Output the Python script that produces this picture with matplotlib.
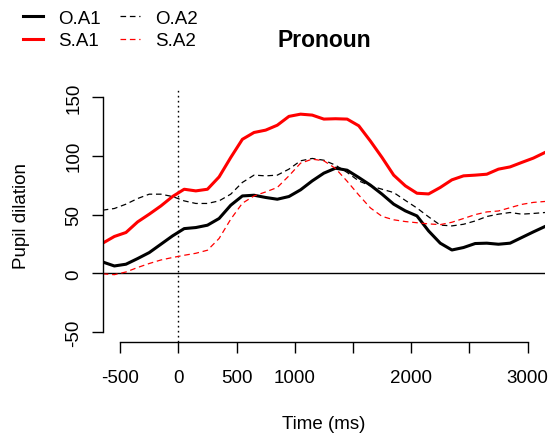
#!/usr/bin/env python3
import numpy as np
import matplotlib
matplotlib.use('Agg')
import matplotlib.pyplot as plt

plt.rcParams['font.family'] = ['Liberation Sans', 'DejaVu Sans']

#%% data (pupil dilation vs time, 100 ms bins)
time_ms = np.arange(-650, 3151, 100)

o_a1 = [9.6, 6.2, 7.7, 12.5, 17.6, 24.7, 31.8, 38, 38.9, 40.9,
        46.6, 57.9, 65.8, 66.4, 64.5, 63, 65.3, 71, 78.6, 85.2,
        89.4, 87.7, 81.5, 75, 67.3, 58.8, 53.1, 48.8, 36, 25.6,
        19.8, 21.9, 25.3, 25.6, 24.7, 25.6, 30.4, 35.2, 39.8]
o_a2 = [53.7, 55.1, 58.8, 63.6, 67.3, 67.3, 65.3, 61.6, 59.4, 59.4,
        61.6, 67.3, 77.3, 83.5, 82.9, 83.5, 88.6, 95.7, 97.7, 96.2,
        92, 85.8, 78.6, 74.4, 71.5, 68.7, 62, 55.5, 48, 41,
        40.3, 41.7, 44.5, 48.3, 50.3, 51.7, 50.3, 50.9, 51.7]
s_a1 = [25.6, 31.3, 34.7, 43.7, 50.3, 57.3, 65.3, 71.5, 70.1, 71.5,
        82, 98.5, 114, 119.8, 121.8, 126, 133.5, 135.4, 134.6, 131.2,
        131.5, 131.2, 125.5, 112.5, 98.5, 83.5, 74.4, 68.1, 67.5, 73,
        79.5, 82.9, 83.5, 84.3, 88.6, 90.5, 94.3, 98, 102.8]
s_a2 = [-0.5, -1.2, 1.1, 4.9, 8.3, 11.3, 13.4, 15.3, 17, 19.6,
        29.6, 46, 59.6, 65.8, 69.2, 73, 82.9, 93.7, 97.1, 95.7,
        89.2, 78.3, 66.6, 55.6, 48.4, 45.5, 44, 43, 42, 41.4,
        43.4, 46.6, 49.9, 52.2, 53, 55.8, 58.6, 60.3, 61.1]

xticks = [-500, 0, 500, 1000, 1500, 2000, 2500, 3000]
xticklabels = ['-500', '0', '500', '1000', '', '2000', '', '3000']
yticks = [-50, 0, 50, 100, 150]

FS = 13.5
W, H = 556, 439

#%% figure
fg = plt.figure(figsize=(W / 100, H / 100), dpi=100)
ax = fg.add_axes([102.7 / W, 1 - 343 / H, 442.3 / W, 254.4 / H])

ax.axhline(0, color='black', lw=1)
ax.axvline(0, color='black', lw=1, dashes=(1.2, 2.4))

ax.plot(time_ms, o_a1, color='black', lw=2.2, label='O.A1')
ax.plot(time_ms, s_a1, color='red', lw=2.2, label='S.A1')
ax.plot(time_ms, o_a2, color='black', lw=0.9, dashes=(4.5, 3), label='O.A2')
ax.plot(time_ms, s_a2, color='red', lw=0.9, dashes=(4.5, 3), label='S.A2')

ax.set_xlim(-650, 3150)
ax.set_ylim(-58.5, 158)

# R style detached axes
for s in ('top', 'right'):
    ax.spines[s].set_visible(False)
ax.spines['left'].set_bounds(-50, 150)
ax.spines['bottom'].set_bounds(-500, 3000)
for s in ('left', 'bottom'):
    ax.spines[s].set_linewidth(1)

ax.set_xticks(xticks)
ax.set_xticklabels(xticklabels)
ax.set_yticks(yticks)
ax.set_yticklabels([str(v) for v in yticks], rotation=90, va='center')
ax.tick_params(axis='x', direction='out', length=7.7, width=1, pad=12, labelsize=FS)
ax.tick_params(axis='y', direction='out', length=7.7, width=1, pad=7, labelsize=FS)

fg.text(22 / W, 1 - 215.8 / H, 'Pupil dilation', rotation=90, ha='center', va='center', fontsize=FS)
fg.text(323.9 / W, 1 - 425 / H, 'Time (ms)', ha='center', va='center', fontsize=FS)
fg.text(323.9 / W, 1 - 46.7 / H, 'Pronoun', ha='center', va='baseline', fontsize=16.5, fontweight='bold')

h, l = ax.get_legend_handles_labels()
fg.legend(h, l, loc='upper left', bbox_to_anchor=(23.3 / W, 1 - 10.5 / H), ncol=2,
          frameon=False, fontsize=FS, handlelength=1.05, handletextpad=0.8,
          columnspacing=1.05, labelspacing=0.29, borderpad=0, borderaxespad=0)

fg.savefig('out.png', dpi=100)
